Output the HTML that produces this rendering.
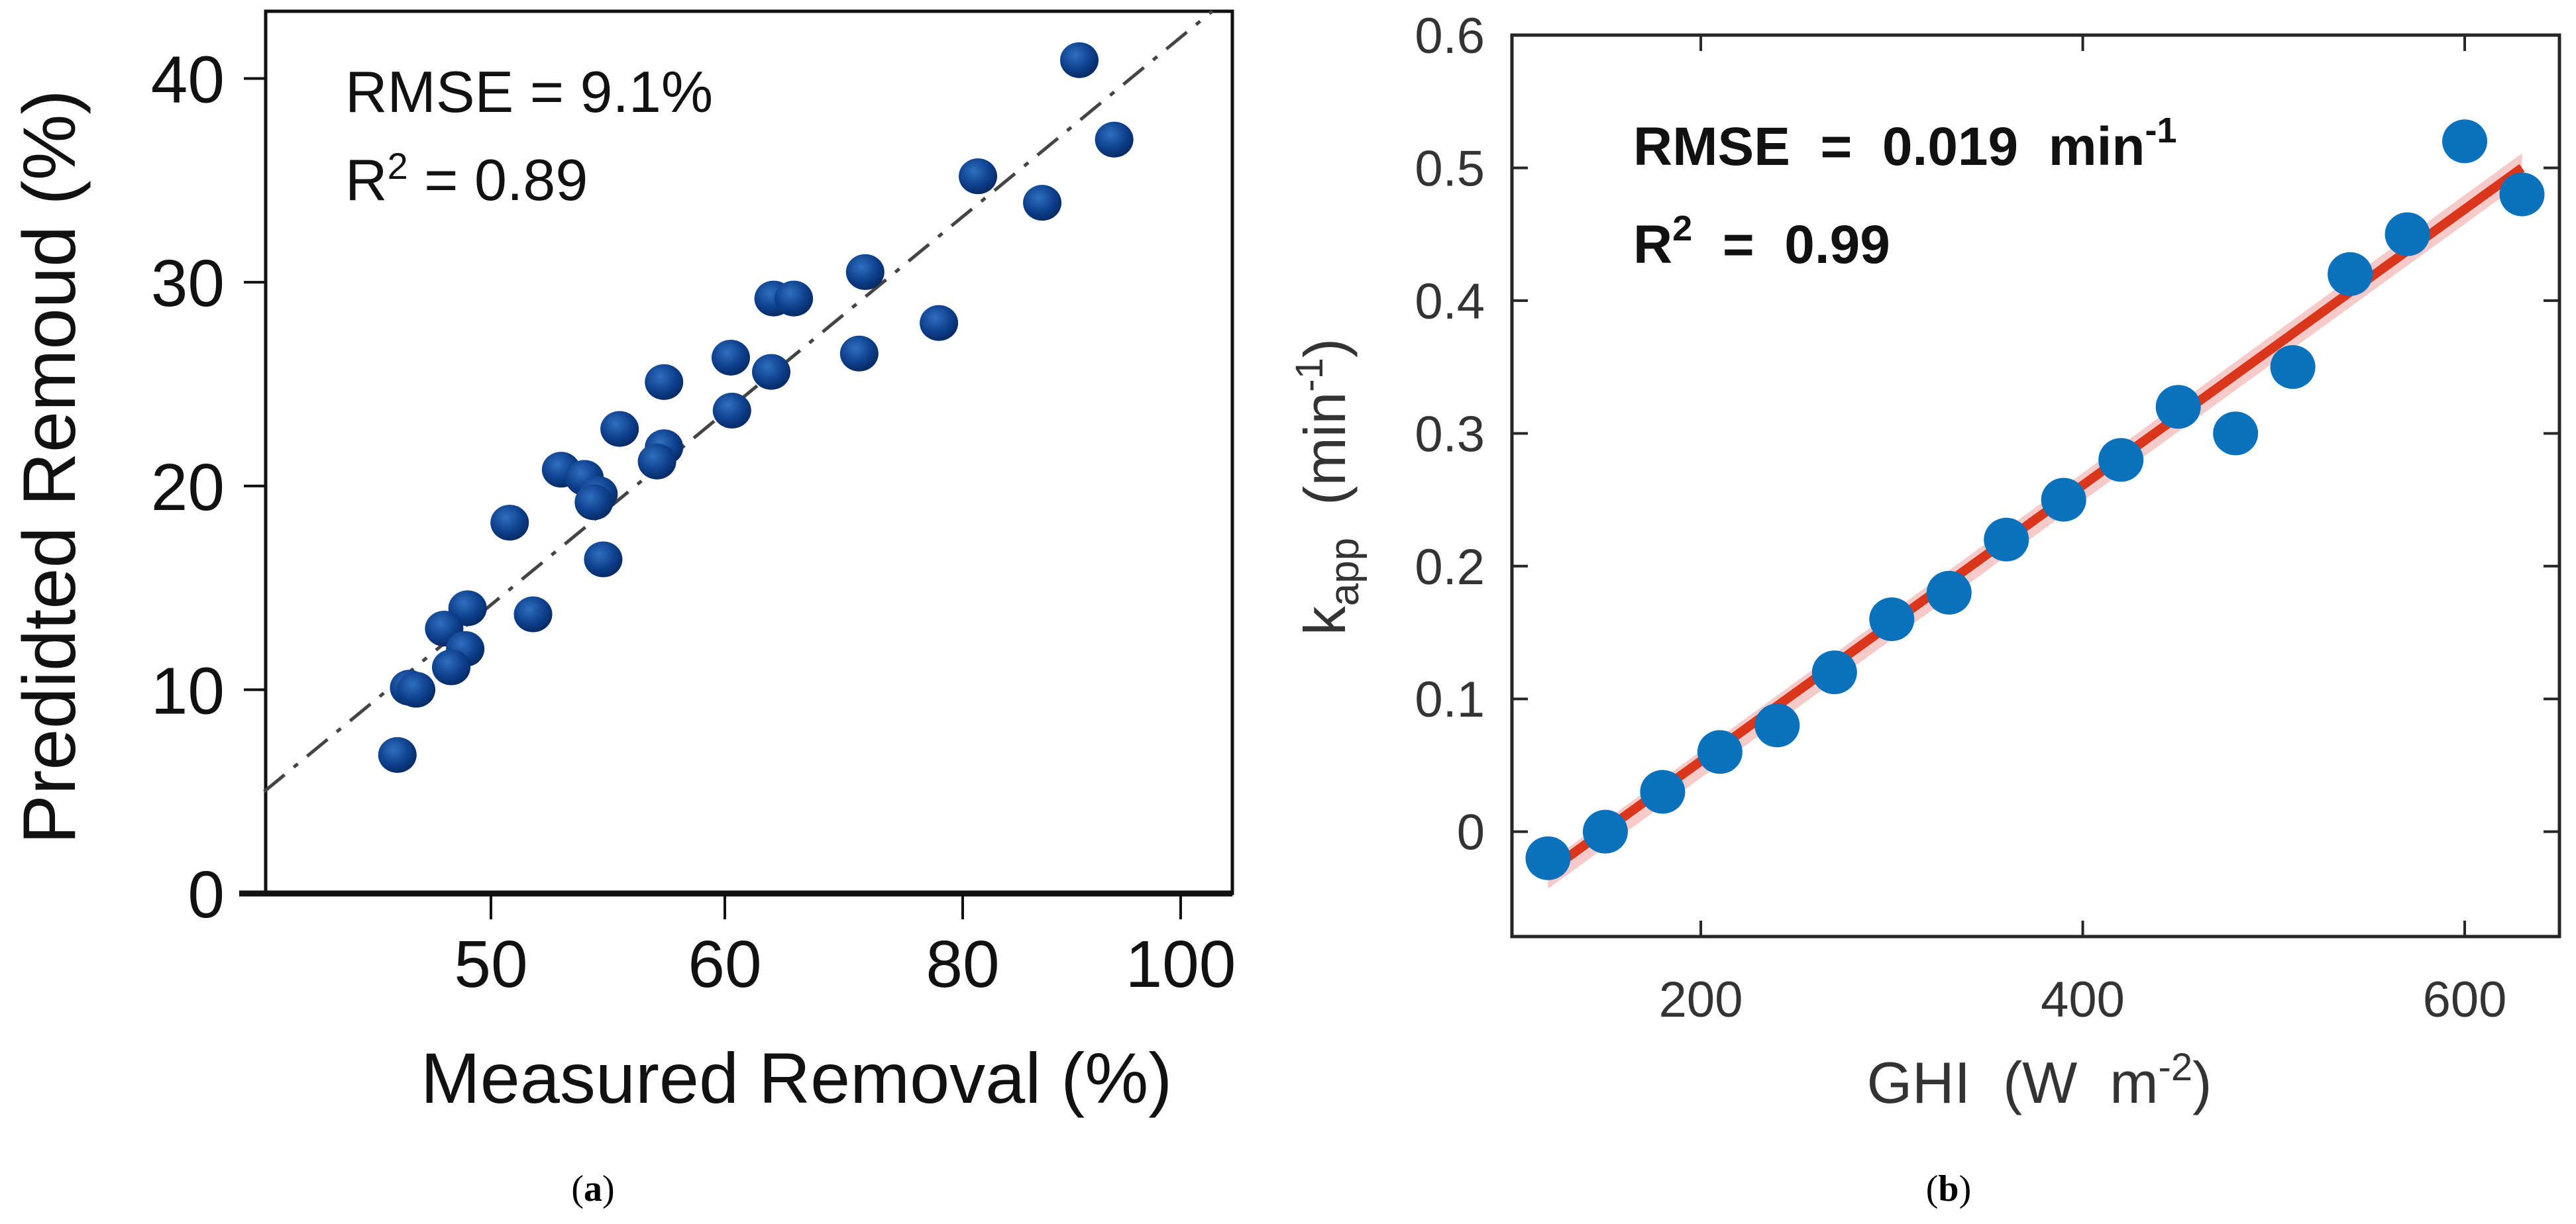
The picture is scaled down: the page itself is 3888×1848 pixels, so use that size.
<!DOCTYPE html>
<html><head><meta charset="utf-8"><style>
html,body{margin:0;padding:0;background:#fff}
svg{display:block}
.tk{font-family:"Liberation Sans",sans-serif}
</style></head><body>
<svg id="fig" width="3888" height="1848" viewBox="0 0 3888 1848" xmlns="http://www.w3.org/2000/svg">
<defs>
<radialGradient id="dot" cx="0.4" cy="0.35" r="0.7">
<stop offset="0" stop-color="#2f6fbf"/><stop offset="0.6" stop-color="#0d3f8c"/><stop offset="1" stop-color="#06275e"/>
</radialGradient>
</defs>
<g id="pa"></g>
<g id="pb"></g>
<text x="895" y="1813" text-anchor="middle" font-family="Liberation Serif,serif" font-size="56">(<tspan font-weight="bold">a</tspan>)</text>
<text x="2941" y="1813" text-anchor="middle" font-family="Liberation Serif,serif" font-size="56">(<tspan font-weight="bold">b</tspan>)</text>
</svg>
<script>
// Panel A data
const aMeasured = [90.7,93.9,81.4,87.3,71.8,64.1,65.8,78.0,71.3,60.5,63.9,57.4,60.6,55.5,57.4,57.1,53.0,54.0,54.6,54.4,50.8,54.8,49.0,51.8,48.0,48.9,48.3,46.5,46.8,46.0];
const aPredicted = [40.9,37.0,35.2,33.9,30.5,29.2,29.2,28.0,26.5,26.3,25.6,25.1,23.7,22.8,21.9,21.2,20.8,20.4,19.6,19.2,18.2,16.4,14.0,13.7,13.0,12.0,11.1,10.1,10.0,6.8];
const aXTicks = [50,60,80,100];
const aYTicks = [0,10,20,30,40];
const aRefLine = [[40.3,5.0],[102.9,43.3]];
// Panel B data
const bGHI = [120,150,180,210,240,270,300,330,360,390,420,450,480,510,540,570,600,630];
const bKapp = [-0.02,0.0,0.03,0.06,0.08,0.12,0.16,0.18,0.22,0.25,0.28,0.32,0.30,0.35,0.42,0.45,0.52,0.48];
const bXTicks = [200,400,600];
const bYTicks = [0,0.1,0.2,0.3,0.4,0.5,0.6];
const bYTickLabels = ["0","0.1","0.2","0.3","0.4","0.5","0.6"];
const bFit = [[120,-0.03],[630,0.50]];

const NS="http://www.w3.org/2000/svg";
function mk(parent,tag,attrs,text){const e=document.createElementNS(NS,tag);for(const k in attrs)e.setAttribute(k,attrs[k]);if(text!==undefined)e.textContent=text;parent.appendChild(e);return e;}

// ---- Panel A ----
const pa=document.getElementById('pa');
const aTickPx=[741,1094,1453,1782];
function axX(v){
  let i=0; if(v>aXTicks[2]) i=2; else if(v>aXTicks[1]) i=1; else i=0;
  return aTickPx[i]+(v-aXTicks[i])*(aTickPx[i+1]-aTickPx[i])/(aXTicks[i+1]-aXTicks[i]);
}
function ayY(v){return 1349-(v/40)*(1349-118.5);}
const aL=401,aR=1860,aT=17,aB=1349;
let r=mk(pa,'rect',{x:aL,y:aT,width:aR-aL,height:aB-aT,fill:'none',stroke:'#111','stroke-width':5});


let bl=mk(pa,'line',{x1:361,y1:aB,x2:aR,y2:aB,stroke:'#111','stroke-width':9});


aXTicks.forEach((t,i)=>{
  const x=axX(t);
  const l=mk(pa,'line',{x1:x,y1:aB,x2:x,y2:1388,stroke:'#111','stroke-width':4});
  
  
  const tx=mk(pa,'text',{x:x,y:1490,'text-anchor':'middle','font-size':100,class:'tk',fill:'#111'},String(t));
  
  
});
aYTicks.forEach(t=>{
  const y=ayY(t);
  const l=mk(pa,'line',{x1:368,y1:y,x2:aL,y2:y,stroke:'#111','stroke-width':4});
  
  
  const tx=mk(pa,'text',{x:339,y:y+36,'text-anchor':'end','font-size':100,class:'tk',fill:'#111'},String(t));
  
  
});
let ref=mk(pa,'line',{x1:axX(aRefLine[0][0]),y1:ayY(aRefLine[0][1]),x2:axX(aRefLine[1][0]),y2:ayY(aRefLine[1][1]),stroke:'#444','stroke-width':5,'stroke-dasharray':'40 18 8 18'});


aMeasured.forEach((m,i)=>{
  const c=mk(pa,'ellipse',{cx:axX(m),cy:ayY(aPredicted[i]),rx:29,ry:27,fill:'url(#dot)'});
  
  
});
let t1=mk(pa,'text',{x:521,y:169,'font-size':88,class:'tk',fill:'#111'},'RMSE = 9.1%');


let t2=mk(pa,'text',{x:521,y:302,'font-size':88,class:'tk',fill:'#111'});
t2.innerHTML='R<tspan dy="-32" font-size="56">2</tspan><tspan dy="32"> = 0.89</tspan>';


let xt=mk(pa,'text',{x:1202,y:1665,'text-anchor':'middle','font-size':108,class:'tk',fill:'#111'},'Measured Removal (%)');


let yt=mk(pa,'text',{x:0,y:0,'text-anchor':'middle','font-size':112,class:'tk',fill:'#111',transform:'translate(113,705) rotate(-90)'},'Predidted Remoud (%)');



// ---- Panel B ----
const pb=document.getElementById('pb');
const bL=2282,bR=3863,bT=53,bB=1414;
const bXmin=101.1,bXmax=649.6,bYmin=-0.079,bYmax=0.6;
function bx(v){return bL+(v-bXmin)/(bXmax-bXmin)*(bR-bL);}
function by(v){return bB-(v-bYmin)/(bYmax-bYmin)*(bB-bT);}
let rb=mk(pb,'rect',{x:bL,y:bT,width:bR-bL,height:bB-bT,fill:'none',stroke:'#262626','stroke-width':5});


bXTicks.forEach(t=>{
  const x=bx(t);
  const l1=mk(pb,'line',{x1:x,y1:bB,x2:x,y2:bB-24,stroke:'#262626','stroke-width':4});
  
  
  const l2=mk(pb,'line',{x1:x,y1:bT,x2:x,y2:bT+24,stroke:'#262626','stroke-width':4});
  
  
  const tx=mk(pb,'text',{x:x,y:1535,'text-anchor':'middle','font-size':76,class:'tk',fill:'#333'},String(t));
  
  
});
bYTicks.forEach((t,i)=>{
  const y=by(t);
  const l1=mk(pb,'line',{x1:bL,y1:y,x2:bL+24,y2:y,stroke:'#262626','stroke-width':4});
  
  
  const l2=mk(pb,'line',{x1:bR,y1:y,x2:bR-24,y2:y,stroke:'#262626','stroke-width':4});
  
  
  const tx=mk(pb,'text',{x:2241,y:y+27,'text-anchor':'end','font-size':76,class:'tk',fill:'#333'},bYTickLabels[i]);
  
  
});
const fx1=bx(bFit[0][0]),fy1=by(bFit[0][1]),fx2=bx(bFit[1][0]),fy2=by(bFit[1][1]);
let band=mk(pb,'polygon',{points:`${fx1},${fy1-14} ${fx2},${fy2-22} ${fx2},${fy2+22} ${fx1},${fy1+26}`,fill:'#f4b3b3',opacity:0.7});


let fit=mk(pb,'line',{x1:fx1,y1:fy1,x2:fx2,y2:fy2,stroke:'#d9361c','stroke-width':14});


bGHI.forEach((g,i)=>{
  const c=mk(pb,'ellipse',{cx:bx(g),cy:by(bKapp[i]),rx:34,ry:33,fill:'#0a71bd'});
  
  
});
let bt1=mk(pb,'text',{x:2465,y:249,'font-size':82,'font-weight':'bold',class:'tk',fill:'#111'});
bt1.innerHTML='RMSE&#160;&#160;=&#160;&#160;0.019&#160;&#160;min<tspan dy="-34" font-size="54">-1</tspan>';


let bt2=mk(pb,'text',{x:2465,y:397,'font-size':82,'font-weight':'bold',class:'tk',fill:'#111'});
bt2.innerHTML='R<tspan dy="-34" font-size="54">2</tspan><tspan dy="34">&#160;&#160;=&#160;&#160;0.99</tspan>';


let bxt=mk(pb,'text',{x:3078,y:1665,'text-anchor':'middle','font-size':88,class:'tk',fill:'#333'});
bxt.innerHTML='GHI&#160;&#160;(W&#160;&#160;m<tspan dy="-34" font-size="58">-2</tspan><tspan dy="34">)</tspan>';


let byt=mk(pb,'text',{x:0,y:0,'text-anchor':'middle','font-size':88,class:'tk',fill:'#333',transform:'translate(2030,735) rotate(-90)'});
byt.innerHTML='k<tspan dy="20" font-size="62">app</tspan><tspan dy="-20">&#160;&#160;(min</tspan><tspan dy="-34" font-size="58">-1</tspan><tspan dy="34">)</tspan>';


</script>
</body></html>
